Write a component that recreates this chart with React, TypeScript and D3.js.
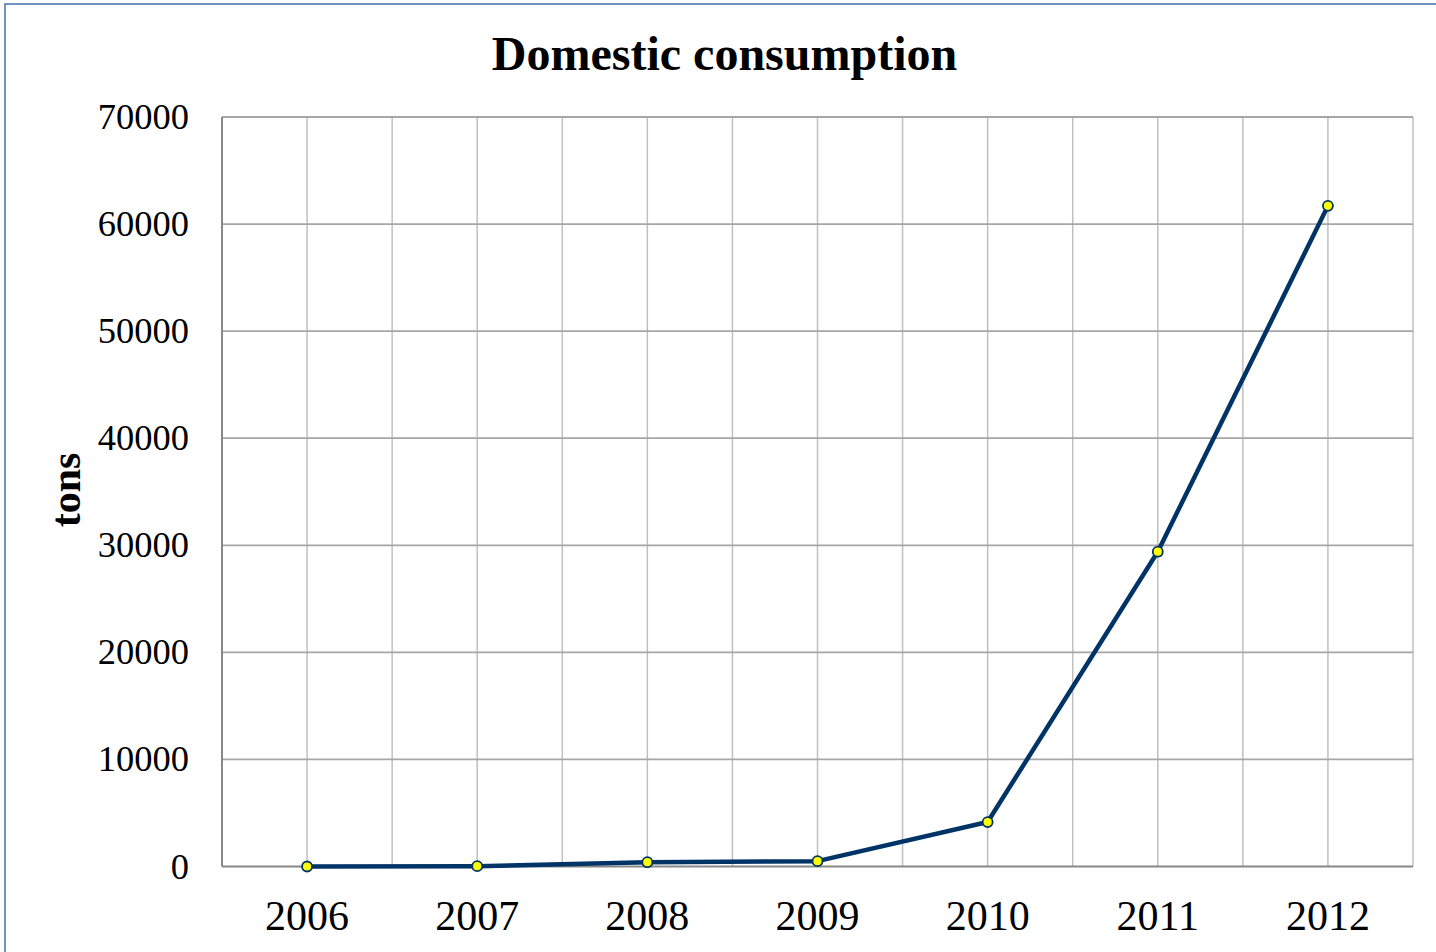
import React from "react";
import * as d3 from "d3";

const years = ["2006", "2007", "2008", "2009", "2010", "2011", "2012"];
const consumption = [0, 30, 400, 500, 4150, 29400, 61700];
const yTicks = [0, 10000, 20000, 30000, 40000, 50000, 60000, 70000];
const title = "Domestic consumption";
const yLabel = "tons";

export default function App() {
  const W = 1436, H = 952;
  const left = 222, right = 1413, top = 117, bottom = 866.5;
  const x = d3.scaleBand<string>().domain(years).range([left, right]).padding(0);
  const y = d3.scaleLinear().domain([0, 70000]).range([bottom, top]);
  const cx = (d: string) => (x(d) as number) + x.bandwidth() / 2;
  const line = d3.line<number>().x((_, i) => cx(years[i])).y((v) => y(v));
  const vLines: number[] = [];
  years.forEach((yr) => {
    vLines.push(x(yr) as number);
    vLines.push(cx(yr));
  });
  vLines.push(right);
  const font = "'Liberation Serif', 'Times New Roman', serif";
  return (
    <svg width={W} height={H} style={{ position: "absolute", left: 0, top: 0, background: "#fff" }}>
      <rect x={5} y={4} width={W + 10} height={H + 10} fill="#fff" stroke="#7193bf" strokeWidth={2} />
      <text x={724.5} y={70} textAnchor="middle" fontFamily={font} fontWeight="bold" fontSize={48}>{title}</text>
      {vLines.slice(1).map((v, i) => (
        <line key={"v" + i} x1={v} x2={v} y1={top} y2={bottom} stroke="#c0c0c0" strokeWidth={1.5} />
      ))}
      {yTicks.slice(1).map((t) => (
        <line key={"h" + t} x1={left} x2={right} y1={y(t)} y2={y(t)} stroke="#a6a6a6" strokeWidth={1.8} />
      ))}
      <line x1={left} x2={left} y1={top} y2={bottom} stroke="#888" strokeWidth={2} />
      <line x1={left} x2={right} y1={bottom} y2={bottom} stroke="#888" strokeWidth={2} />
      {yTicks.map((t) => (
        <text key={"yt" + t} x={189} y={y(t) + 12} textAnchor="end" fontFamily={font} fontSize={36.5}>{t}</text>
      ))}
      {years.map((yr) => (
        <text key={"xt" + yr} x={cx(yr)} y={930} textAnchor="middle" fontFamily={font} fontSize={42}>{yr}</text>
      ))}
      <text transform={`translate(80,490) rotate(-90)`} textAnchor="middle" fontFamily={font} fontWeight="bold" fontSize={42}>{yLabel}</text>
      <path d={line(consumption) as string} fill="none" stroke="#003366" strokeWidth={4.5} strokeLinejoin="round" />
      {consumption.map((v, i) => (
        <circle key={"p" + i} cx={cx(years[i])} cy={y(v)} r={5} fill="#ffff00" stroke="#003366" strokeWidth={1.8} />
      ))}
    </svg>
  );
}
